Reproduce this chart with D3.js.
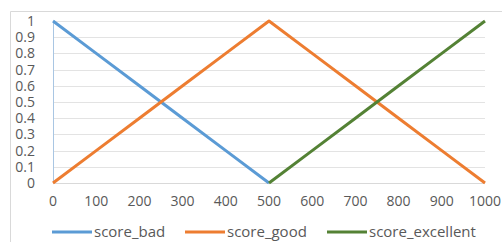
<!DOCTYPE html>
<html>
<head>
<meta charset="utf-8">
<script src="https://cdn.jsdelivr.net/npm/d3@7"></script>
<style>
  body { margin: 0; background: #fff; }
  text { font-family: "Open Sans", Lato, sans-serif; fill: #595959; }
</style>
</head>
<body>
<div id="chart"></div>
<script>
// categories on the x axis
const xCats = [0, 100, 200, 300, 400, 500, 600, 700, 800, 900, 1000];
// series values (null = no point)
const scoreBad = [1, 0.8, 0.6, 0.4, 0.2, 0, null, null, null, null, null];
const scoreGood = [0, 0.2, 0.4, 0.6, 0.8, 1, 0.8, 0.6, 0.4, 0.2, 0];
const scoreExcellent = [null, null, null, null, null, 0, 0.2, 0.4, 0.6, 0.8, 1];
const yTicks = [0, 0.1, 0.2, 0.3, 0.4, 0.5, 0.6, 0.7, 0.8, 0.9, 1];
const seriesNames = ["score_bad", "score_good", "score_excellent"];

const colors = ["#5b9bd5", "#ed7d31", "#548235"];
const series = [scoreBad, scoreGood, scoreExcellent];

var w = 502, h = 242;
var svg = d3.select("#chart").append("svg")
    .attr("width", w)
    .attr("height", h);

// chart area border
svg.append("path")
    .attr("d", "M10.5," + h + "V11.5H" + w)
    .attr("fill", "none")
    .attr("stroke", "#d9d9d9");

var x = d3.scalePoint()
    .domain(xCats)
    .range([53, 485]);

var y = d3.scaleLinear()
    .domain([0, 1])
    .range([183, 21]);

// gridlines
svg.append("g")
    .selectAll("line")
    .data(yTicks.slice(1))
    .enter().append("line")
    .attr("x1", 53).attr("x2", 485)
    .attr("y1", d => Math.round(y(d)) + 0.5)
    .attr("y2", d => Math.round(y(d)) + 0.5)
    .attr("stroke", "#e3e3e3");

// x axis line
svg.append("line")
    .attr("x1", 53).attr("x2", 485)
    .attr("y1", Math.round(y(0)) + 0.5).attr("y2", Math.round(y(0)) + 0.5)
    .attr("stroke", "#d9d9d9");

// y axis line
svg.append("line")
    .attr("x1", 53.5).attr("x2", 53.5)
    .attr("y1", y(1)).attr("y2", y(0))
    .attr("stroke", "#a9c6e3");

// y tick labels
svg.append("g")
    .selectAll("text")
    .data(yTicks)
    .enter().append("text")
    .attr("x", 35)
    .attr("y", d => y(d))
    .attr("dy", "0.35em")
    .attr("text-anchor", "end")
    .style("font-size", "14px")
    .text(d => d);

// x tick labels
svg.append("g")
    .selectAll("text")
    .data(xCats)
    .enter().append("text")
    .attr("x", d => x(d))
    .attr("y", 201)
    .attr("dy", "0.35em")
    .attr("text-anchor", "middle")
    .style("font-size", "14px")
    .text(d => d);

// lines
var line = d3.line()
    .defined(d => d.v != null)
    .x(d => x(d.c))
    .y(d => y(d.v));

series.forEach((s, i) => {
    svg.append("path")
        .datum(s.map((v, j) => ({ c: xCats[j], v: v })))
        .attr("d", line)
        .attr("fill", "none")
        .attr("stroke", colors[i])
        .attr("stroke-width", 3)
        .attr("stroke-linejoin", "round");
});

// legend
var legendX = [52, 185, 327];
var legend = svg.append("g")
    .selectAll("g")
    .data(seriesNames)
    .enter().append("g")
    .attr("transform", (d, i) => "translate(" + legendX[i] + ",232)");
legend.append("line")
    .attr("x1", 0).attr("x2", 40)
    .attr("stroke", (d, i) => colors[i])
    .attr("stroke-width", 3);
legend.append("text")
    .attr("x", 42)
    .attr("dy", "0.35em")
    .style("font-size", "15px")
    .text(d => d);
</script>
</body>
</html>
